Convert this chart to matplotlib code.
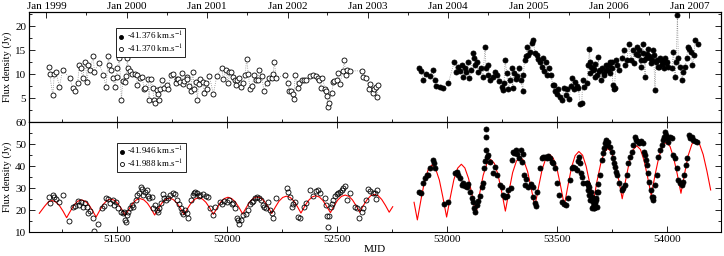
import numpy as np
import matplotlib
matplotlib.use("Agg")
import matplotlib.pyplot as plt
from matplotlib.ticker import MultipleLocator, FixedLocator

plt.rcParams['font.family'] = ['Liberation Serif', 'DejaVu Serif']
plt.rcParams['mathtext.fontset'] = 'stix'

# ---------------- data ----------------
top_open_mjd = [51190,51194,51208,51215,51223,51238,51253,51286,51298,51311,
    51321,51329,51336,51344,51355,51365,51370,51377,51392,51397,
    51417,51438,51450,51461,51465,51473,51483,51491,51498,51501,
    51511,51520,51526,51535,51541,51547,51551,51559,51567,51582,
    51589,51592,51604,51614,51623,51629,51642,51645,51653,51662,
    51668,51674,51680,51688,51692,51695,51706,51714,51729,51733,
    51744,51753,51767,51771,51779,51786,51794,51798,51806,51817,
    51820,51829,51835,51844,51851,51859,51865,51871,51877,51889,
    51895,51903,51908,51920,51938,51953,51976,51983,51995,52006,
    52011,52018,52029,52035,52041,52047,52053,52062,52074,52082,
    52089,52097,52104,52115,52123,52132,52139,52147,52157,52168,
    52180,52192,52203,52210,52214,52224,52264,52279,52283,52291,
    52301,52304,52309,52321,52329,52339,52350,52359,52377,52389,
    52403,52415,52420,52426,52433,52445,52450,52456,52460,52465,
    52476,52483,52488,52498,52506,52513,52526,52533,52539,52544,
    52559,52612,52620,52632,52647,52650,52662,52668,52677,52680,
    52688]
top_open_flux = [11.4,10.0,5.6,10.0,10.4,7.4,10.8,9.2,7.2,6.5,
    8.1,12.0,11.2,9.1,12.6,8.4,11.9,10.8,13.8,10.5,
    12.4,9.8,7.4,13.8,11.9,10.8,9.1,7.4,9.4,11.2,
    13.3,4.6,8.6,8.4,9.6,13.3,11.2,10.7,10.0,10.0,
    9.8,7.7,9.3,9.4,7.0,7.1,8.9,4.7,8.9,7.2,
    4.7,3.9,6.7,5.8,4.7,7.0,8.8,7.2,7.7,7.0,
    9.8,10.0,8.1,9.0,9.0,8.4,10.3,7.9,8.5,9.4,
    8.9,7.5,6.5,10.5,7.0,8.4,4.7,7.9,8.9,8.4,
    6.1,8.1,6.8,9.6,5.8,9.6,11.3,9.0,10.8,8.1,
    10.5,10.5,9.4,8.8,7.7,8.8,9.3,7.4,8.1,9.8,
    13.1,10.0,7.0,7.5,9.8,8.8,8.8,10.8,9.6,6.5,
    8.1,9.1,9.1,10.0,12.6,9.3,9.8,8.1,6.5,6.5,
    5.8,4.9,9.8,7.2,8.1,8.8,8.8,8.8,9.6,9.8,
    9.6,9.3,8.8,7.2,9.3,7.0,6.5,5.4,3.1,4.0,
    6.1,8.4,8.5,8.8,10.3,7.9,10.7,12.9,9.8,10.8,
    10.7,10.7,9.4,9.3,7.0,7.9,6.1,6.8,7.4,5.3,
    7.7]

top_fill_mjd = [52874,52882,52892,52904,52923,52935,52945,52950,52968,52983,
    53006,53033,53041,53051,53059,53067,53074,53082,53086,53097,
    53101,53107,53117,53123,53127,53135,53142,53153,53162,53173,
    53177,53185,53188,53195,53207,53218,53229,53238,53248,53253,
    53259,53264,53271,53279,53286,53294,53298,53304,53313,53320,
    53329,53335,53344,53347,53352,53358,53362,53370,53377,53385,
    53392,53400,53408,53415,53423,53430,53435,53441,53450,53456,
    53465,53473,53480,53488,53491,53498,53506,53514,53521,53532,
    53541,53547,53556,53562,53570,53577,53582,53589,53597,53604,
    53612,53617,53623,53635,53647,53650,53654,53665,53673,53683,
    53688,53695,53703,53713,53723,53733,53741,53748,53753,53759,
    53768,53774,53783,53794,53802,53809,53817,53826,53835,53844,
    53850,53859,53865,53874,53880,53889,53895,53900,53907,53915,
    53923,53930,53938,53945,53953,53960,53968,53975,53983,53991,
    53998,54006,54021,54029,54036,54041,54047,54051,54059,54066,
    54074,54082,54089,54094,54101,54109,54115,54123,54127,54142,
    53642,53651,53666,53674,53689,53700,53711,53721,53734,53742,
    53751,53761,53870,53882,53892,53903,53916,53927,53939,53949,
    53961,53973,53984,53994]
top_fill_flux = [11.2,10.7,8.8,10.1,9.6,10.8,8.8,7.5,7.4,7.2,
    8.2,12.6,10.5,11.5,10.7,11.9,9.4,11.2,10.5,12.6,
    9.1,10.8,14.4,13.3,11.9,12.6,10.5,11.2,9.4,15.6,
    11.2,11.9,9.8,8.8,9.4,10.5,9.8,8.6,7.4,6.7,
    8.1,12.9,10.3,6.8,8.8,11.2,7.2,10.3,8.9,9.6,
    11.2,8.8,6.5,9.8,12.9,13.8,15.7,14.0,14.7,16.5,
    17.1,14.4,14.0,13.1,12.6,11.5,13.3,10.7,12.6,9.8,
    11.2,9.8,7.7,7.7,6.5,5.8,7.0,5.3,4.6,7.2,
    5.6,6.8,4.9,7.5,9.3,6.8,8.4,7.5,7.2,3.8,
    3.9,8.8,7.4,8.1,15.3,12.6,11.5,10.8,12.2,9.8,
    13.5,10.8,11.2,10.3,11.9,10.8,12.6,11.2,7.7,6.8,
    12.9,11.9,10.8,13.3,15.1,11.9,12.9,16.4,12.9,15.1,
    12.4,14.3,15.7,15.0,11.5,16.4,12.9,9.4,14.3,15.3,
    13.3,12.9,15.0,6.7,12.9,11.5,13.3,12.2,12.6,13.3,
    12.6,11.5,11.2,14.7,9.4,12.6,22.3,13.3,11.5,8.8,
    10.5,11.5,13.3,15.7,15.3,14.7,11.9,14.0,17.2,16.3,
    11.9,10.2,11.0,9.5,10.6,8.8,9.9,10.9,11.9,10.2,
    12.6,7.1,14.0,13.0,14.4,13.3,13.7,12.3,14.0,12.6,
    11.6,13.0,11.3,12.3]

bot_open_mjd = [51192,51195,51208,51215,51223,51238,51253,51283,51298,51309,
    51321,51329,51336,51347,51355,51362,51370,51377,51389,51395,
    51415,51430,51441,51450,51461,51468,51480,51486,51495,51506,
    51517,51526,51532,51536,51541,51544,51551,51559,51567,51574,
    51586,51592,51601,51607,51612,51620,51627,51635,51642,51647,
    51658,51665,51673,51680,51688,51692,51700,51708,51714,51723,
    51733,51741,51753,51764,51774,51783,51789,51794,51801,51809,
    51817,51824,51835,51844,51851,51856,51863,51871,51877,51892,
    51905,51915,51923,51935,51945,51968,51976,51986,51998,52011,
    52021,52029,52036,52044,52051,52056,52062,52074,52086,52097,
    52104,52112,52120,52127,52135,52147,52153,52162,52168,52177,
    52188,52195,52203,52210,52223,52271,52279,52286,52294,52301,
    52309,52324,52332,52350,52359,52377,52392,52405,52415,52423,
    52445,52450,52456,52460,52465,52471,52476,52483,52491,52498,
    52506,52513,52521,52529,52536,52544,52559,52582,52589,52601,
    52612,52617,52632,52642,52650,52662,52673,52677,52683]
bot_open_flux = [26.1,23.3,26.8,26.1,25.0,23.5,26.8,15.0,21.5,21.8,
    24.1,22.3,23.8,21.5,23.0,21.5,18.5,19.5,16.2,10.5,
    13.6,21.1,21.8,25.6,25.0,23.0,24.5,22.3,23.5,20.8,
    18.9,18.5,19.2,15.5,14.4,17.7,18.9,21.1,22.3,21.5,
    24.5,26.8,27.6,30.5,29.5,26.8,28.3,29.1,26.5,25.3,
    25.8,20.8,22.3,20.0,18.9,20.8,23.0,27.1,25.6,24.5,
    25.6,26.8,27.6,27.1,24.5,22.6,20.8,18.9,18.0,20.0,
    18.5,16.5,24.5,26.8,27.6,28.3,27.9,26.5,26.8,27.3,
    26.5,26.1,20.8,17.7,21.5,23.5,22.6,24.1,23.8,24.5,
    22.6,23.0,20.8,16.2,15.5,13.6,15.5,17.7,18.0,20.0,
    22.6,23.5,24.1,25.3,26.1,25.6,24.5,22.3,21.5,21.1,
    23.5,20.0,18.5,16.2,25.6,30.2,28.3,26.1,21.5,22.6,
    23.5,17.0,16.5,21.5,23.0,29.1,26.4,28.6,29.1,27.6,
    25.3,22.3,17.4,12.4,17.4,21.5,22.6,24.5,26.5,27.1,
    27.6,28.3,29.1,29.8,31.1,24.5,27.6,21.5,20.8,16.2,
    18.9,21.1,24.5,29.5,28.6,27.6,27.6,25.0,29.1]

bot_fill_mjd = [52874,52880,52889,52900,52907,52915,52923,52935,52941,52945,
    52986,53006,53036,53044,53051,53059,53067,53074,53082,53089,
    53097,53104,53112,53120,53124,53127,53135,53142,53150,53158,
    53162,53168,53174,53177,53178,53179,53180,53188,53195,53207,
    53218,53229,53241,53248,53256,53264,53271,53279,53289,53294,
    53298,53304,53313,53320,53329,53335,53339,53344,53350,53354,
    53359,53370,53380,53389,53392,53400,53404,53408,53423,53430,
    53438,53445,53453,53460,53468,53476,53483,53491,53501,53510,
    53521,53532,53541,53551,53559,53566,53574,53582,53589,53597,
    53601,53604,53607,53612,53617,53635,53642,53647,53653,53658,
    53662,53665,53668,53673,53677,53683,53688,53695,53703,53707,
    53713,53718,53723,53729,53733,53741,53748,53753,53759,53764,
    53768,53774,53783,53794,53801,53809,53817,53824,53832,53839,
    53847,53854,53859,53865,53874,53880,53889,53895,53900,53904,
    53910,53915,53919,53926,53930,53935,53938,53945,53953,53960,
    53968,53975,53980,53986,53991,53995,54001,54006,54013,54021,
    54029,54036,54044,54051,54059,54066,54071,54077,54086,54092,
    54101,54104,54112,54116,54127,54135,
    53636,53640,53645,53650,53657,53670,53676,53680,53685,53659,53669]
bot_fill_flux = [28.0,27.6,32.1,34.4,35.9,35.9,38.9,42.7,41.2,38.9,
    22.7,23.8,36.7,37.4,35.9,34.4,31.4,32.1,31.1,30.6,
    31.7,28.3,25.3,23.5,20.8,18.9,22.3,24.1,26.5,30.6,
    32.1,38.9,42.3,47.3,53.3,56.8,44.2,45.0,42.0,36.7,
    39.7,35.9,31.4,30.6,26.8,26.1,26.5,29.1,30.2,42.7,
    46.5,45.8,47.3,45.3,43.8,47.3,42.0,45.3,35.9,31.4,
    34.1,30.6,31.7,30.6,26.1,23.0,22.0,28.3,38.9,43.5,
    44.2,44.2,43.5,44.7,43.8,42.0,41.2,38.9,32.1,26.8,
    23.8,22.6,22.3,25.3,33.6,38.9,39.7,38.9,38.2,42.3,
    44.2,41.2,36.7,35.2,32.1,32.1,31.4,30.6,28.3,25.3,
    23.8,21.5,20.8,23.0,24.5,21.5,28.3,35.9,42.7,45.8,
    48.0,50.3,51.8,49.5,51.1,48.8,46.5,43.5,41.2,39.7,
    37.4,35.9,32.1,29.1,29.8,31.4,35.9,41.2,44.2,46.5,
    49.5,53.3,51.8,51.4,50.3,51.4,50.3,46.5,45.0,42.7,
    40.5,36.7,32.9,29.1,26.1,24.5,26.1,31.4,35.9,44.2,
    47.3,49.5,51.8,53.3,55.6,54.1,52.6,51.1,53.3,52.6,
    45.0,43.5,38.9,33.6,32.1,31.4,32.9,35.9,40.5,43.8,
    54.1,52.6,53.3,51.8,51.4,51.1,
    32.1,29.1,26.8,24.5,26.0,22.3,25.3,28.3,31.7,21.0,20.8]

# model curve (two segments)
model_a_mjd = [51147,51171,51188,51204,51221,51237,51254,51271,
    51288,51304,51321,51338,51355,51371,51388,51405,
    51422,51438,51455,51471,51488,51504,51521,51538,
    51555,51571,51588,51605,51622,51638,51655,51671,
    51688,51704,51721,51738,51755,51771,51788,51805,
    51822,51838,51855,51871,51888,51904,51921,51938,
    51955,51971,51988,52004,52021,52037,52054,52071,
    52088,52104,52121,52137,52154,52170,52187,52203,
    52220,52236,52253,52270,52287,52303,52320,52336,
    52353,52369,52386,52403,52420,52436,52453,52470,
    52487,52503,52520,52537,52554,52570,52587,52603,
    52620,52636,52653,52670,52687,52703,52720,52737,52753]
model_a_flux = [18.5,21.7,23.7,24.3,23.7,22.2,19.6,16.5,
    19.5,22.1,24.0,24.6,24.0,22.6,19.8,16.8,
    19.9,22.6,24.4,25.0,24.4,22.9,20.4,17.5,
    20.5,23.0,24.6,25.2,24.6,23.1,20.6,17.7,
    20.7,23.2,24.8,25.4,24.8,23.3,20.8,17.9,
    20.9,23.4,25.0,25.6,25.0,23.5,21.0,18.0,
    21.0,23.6,25.2,25.8,25.2,23.7,21.2,18.2,
    21.2,23.8,25.4,26.0,25.4,23.9,21.4,18.4,
    21.4,24.0,25.7,26.3,25.7,24.1,21.5,18.6,
    21.7,24.2,25.9,26.5,25.9,24.3,21.6,18.8,
    21.9,24.5,26.2,26.8,26.2,24.6,21.9,19.0,
    22.1,24.6,26.5,27.1,26.5,24.8,22.1,19.0,21.5]

model_b_mjd = [52850,52865,
    52882,52898,52915,52932,52948,52965,52981,52998,
    53015,53031,53048,53065,53081,53098,53114,53131,
    53148,53164,53181,53198,53215,53231,53248,53265,
    53282,53298,53315,53332,53349,53366,53382,53399,
    53416,53432,53449,53466,53483,53500,53516,53533,
    53550,53566,53582,53599,53616,53632,53648,53665,
    53681,53698,53714,53731,53747,53763,53780,53796,
    53813,53829,53846,53862,53879,53895,53911,53928,
    53945,53962,53979,53996,54013,54029,54046,54063,
    54080,54096,54113,54130,54147,54164,54181,54198]
model_b_flux = [23.5,15.5,
    25.0,33.3,38.6,40.5,38.7,33.6,25.8,16.8,
    25.9,33.8,39.0,40.8,39.1,34.2,26.6,17.9,
    27.4,35.7,41.1,43.0,41.2,36.2,28.4,19.5,
    28.8,37.0,42.2,44.1,42.4,37.5,30.1,21.5,
    30.5,38.4,43.5,45.3,43.5,38.6,30.9,22.1,
    31.4,39.5,44.7,46.6,44.9,39.9,32.4,23.7,
    32.9,40.9,46.2,48.0,46.3,41.3,33.8,25.1,
    34.3,42.2,47.4,49.2,47.5,42.6,35.2,26.6,
    35.8,43.8,49.0,50.8,49.0,44.0,36.4,27.6,
    36.8,44.8,50.0,51.8,50.1,45.2,37.7,29.1]

year_labels = ['Jan 1999','Jan 2000','Jan 2001','Jan 2002','Jan 2003',
               'Jan 2004','Jan 2005','Jan 2006','Jan 2007']
year_mjd = [51179,51544,51910,52275,52640,53005,53371,53736,54101]
midyear_mjd = [51360,51726,52091,52456,52821,53187,53552,53917]

leg_top = ['-41.376 km.s$^{-1}$', '-41.370 km.s$^{-1}$']
leg_bot = ['-41.946 km.s$^{-1}$', '-41.988 km.s$^{-1}$']

# ---------------- figure ----------------
W, H = 724, 256
fig = plt.figure(figsize=(W/100, H/100), dpi=100)
L, R = 29, 721
ax_t = fig.add_axes([L/W, 1-122/H, (R-L)/W, 110/H])
ax_b = fig.add_axes([L/W, 1-232/H, (R-L)/W, 110/H])

XLIM = (51100, 54245)
ms = 3.6
mew = 0.6
dot_kw = dict(color='0.55', lw=0.6, ls=':')

o = np.argsort(top_open_mjd)
ax_t.plot(np.array(top_open_mjd)[o], np.array(top_open_flux)[o], **dot_kw, zorder=1)
o2 = np.argsort(top_fill_mjd)
ax_t.plot(np.array(top_fill_mjd)[o2], np.array(top_fill_flux)[o2], **dot_kw, zorder=1)
ax_t.plot(top_fill_mjd, top_fill_flux, 'o', ms=ms, mfc='black', mec='black',
          mew=mew, ls='none', label=leg_top[0], zorder=3)
ax_t.plot(top_open_mjd, top_open_flux, 'o', ms=ms, mfc='white', mec='black',
          mew=mew, ls='none', label=leg_top[1], zorder=3)

ax_b.plot(model_a_mjd, model_a_flux, color='red', lw=0.8, zorder=2)
ax_b.plot(model_b_mjd, model_b_flux, color='red', lw=0.8, zorder=2)
ax_b.plot(bot_fill_mjd, bot_fill_flux, 'o', ms=ms, mfc='black', mec='black',
          mew=mew, ls='none', label=leg_bot[0], zorder=3)
ax_b.plot(bot_open_mjd, bot_open_flux, 'o', ms=ms, mfc='none', mec='black',
          mew=mew, ls='none', label=leg_bot[1], zorder=3)

for ax in (ax_t, ax_b):
    ax.set_xlim(*XLIM)
    ax.xaxis.set_major_locator(MultipleLocator(500))
    ax.xaxis.set_minor_locator(MultipleLocator(250))
    ax.tick_params(which='both', direction='in', right=True, labelsize=8,
                   width=0.6, pad=2)
    ax.tick_params(which='major', length=4.5)
    ax.tick_params(which='minor', length=2.5)
    for s in ax.spines.values():
        s.set_linewidth(0.8)
    ax.set_ylabel('Flux density (Jy)', fontsize=7.5, labelpad=2)

ax_t.set_ylim(0, 23)
ax_t.yaxis.set_major_locator(FixedLocator([0, 5, 10, 15, 20]))
ax_t.yaxis.set_minor_locator(MultipleLocator(2.5))
ax_t.set_yticklabels(['', '5', '10', '15', '20'])
ax_t.tick_params(axis='x', top=False, bottom=True, labelbottom=False)

ax_b.set_ylim(10, 60)
ax_b.yaxis.set_major_locator(MultipleLocator(10))
ax_b.yaxis.set_minor_locator(MultipleLocator(5))
ax_b.tick_params(axis='x', top=True, bottom=True)
ax_b.set_xlabel('MJD', fontsize=8, labelpad=1)

ax_y = ax_t.twiny()
ax_y.set_xlim(*XLIM)
ax_y.set_xticks(year_mjd)
ax_y.set_xticklabels(year_labels)
ax_y.xaxis.set_minor_locator(FixedLocator(midyear_mjd))
ax_y.tick_params(which='both', direction='in', labelsize=8, width=0.6, pad=1)
ax_y.tick_params(which='major', length=4.5)
ax_y.tick_params(which='minor', length=2.5)
for s in ax_y.spines.values():
    s.set_linewidth(0.8)

leg_kw = dict(loc='upper left', fontsize=6.5, frameon=True, fancybox=False,
              edgecolor='black', framealpha=1, borderpad=0.25, handlelength=0.6,
              handletextpad=0.3, labelspacing=0.05, borderaxespad=0, markerscale=0.8)
lt = ax_t.legend(bbox_to_anchor=(0.126, 0.855), **leg_kw)
lt.get_frame().set_linewidth(0.6)
lb = ax_b.legend(bbox_to_anchor=(0.127, 0.81), **leg_kw)
lb.get_frame().set_linewidth(0.6)

fig.savefig('out.png', dpi=100)
